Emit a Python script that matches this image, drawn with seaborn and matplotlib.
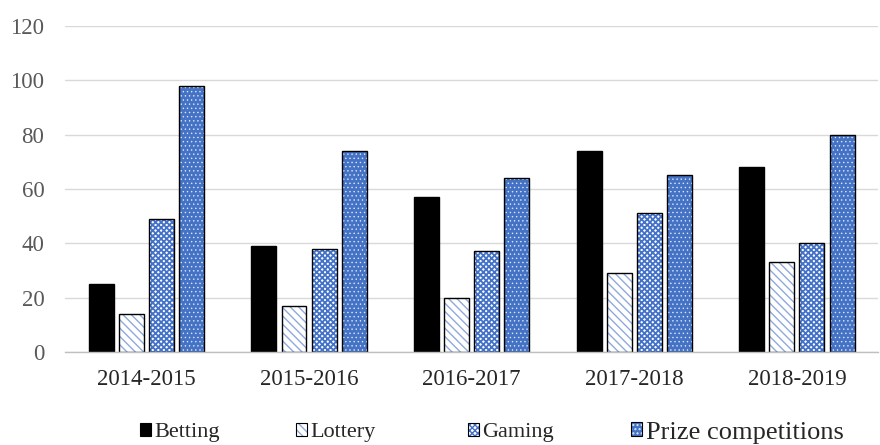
import matplotlib
matplotlib.use("Agg")
import matplotlib.pyplot as plt
import matplotlib.colors as mcolors
from matplotlib.patches import Patch
import seaborn as sns
import pandas as pd

years = ["2014-2015", "2015-2016", "2016-2017", "2017-2018", "2018-2019"]
series = ["Betting", "Lottery", "Gaming", "Prize competitions"]
betting = [25, 39, 57, 74, 68]
lottery = [14, 17, 20, 29, 33]
gaming = [49, 38, 37, 51, 40]
prize = [98, 74, 64, 65, 80]
yticks = [0, 20, 40, 60, 80, 100, 120]

rows = []
for name, vals in zip(series, [betting, lottery, gaming, prize]):
    for y, v in zip(years, vals):
        rows.append({"Year": y, "Type": name, "Value": v})
df = pd.DataFrame(rows)

sns.set_theme(style="white")
plt.rcParams["font.family"] = ["Liberation Serif", "DejaVu Serif"]
plt.rcParams["hatch.linewidth"] = 1.0

styles = {
    "Betting": dict(face="black", hatch=None, hcolor=None, hlw=1.0),
    "Lottery": dict(face="white", hatch="\\\\\\\\", hcolor="#8eaadb", hlw=1.0),
    "Gaming": dict(face="white", hatch="xxxxxx", hcolor="#4372c8", hlw=1.3),
    "Prize competitions": dict(face="#4472c4", hatch="....", hcolor="#dce6f7", hlw=0.5),
}
palette = {k: v["face"] for k, v in styles.items()}


def apply_hatch(p, st):
    if st["hatch"]:
        p.set_hatch(st["hatch"])
        p._hatch_color = mcolors.to_rgba(st["hcolor"])
        if hasattr(p, "set_hatch_linewidth"):
            p.set_hatch_linewidth(st["hlw"])


fig = plt.figure(figsize=(8.8, 4.45), dpi=100)
ax = fig.add_axes([0.074, 0.209, 0.924, 0.7326])

sns.barplot(data=df, x="Year", y="Value", hue="Type", order=years,
            hue_order=series, palette=palette, width=0.74, gap=0.17,
            edgecolor="black", linewidth=1.0, saturation=1, legend=False, ax=ax)

for name, cont in zip(series, ax.containers):
    for p in cont:
        p.set_edgecolor("black")
        apply_hatch(p, styles[name])

ax.set_ylim(0, 120)
ax.set_yticks(yticks)
ax.set_xlim(-0.5, 4.5)
ax.set_xlabel("")
ax.set_ylabel("")
ax.yaxis.grid(True, color="#d9d9d9", linewidth=1.0)
ax.set_axisbelow(True)
for s in ["top", "right", "left"]:
    ax.spines[s].set_visible(False)
ax.spines["bottom"].set_color("#bfbfbf")
ax.spines["bottom"].set_linewidth(1.0)
ax.tick_params(axis="y", colors="#595959", labelsize=16.5, length=0, pad=15)
ax.tick_params(axis="x", colors="#262626", labelsize=16.5, length=0, pad=12)

legend_x = [140, 296, 468, 631]
legend_size = [16, 16, 16, 19]
for name, lx, fs in zip(series, legend_x, legend_size):
    st = styles[name]
    h = Patch(facecolor=st["face"], edgecolor="black", linewidth=0.8, label=name)
    apply_hatch(h, st)
    fig.legend(handles=[h], loc="center left", bbox_to_anchor=(lx / 880, 0.028),
               frameon=False, fontsize=fs, handlelength=0.5 * 16 / fs,
               handleheight=0.5 * 16 / fs, handletextpad=0.15,
               borderpad=0, borderaxespad=0)

fig.savefig("out.png", dpi=100)
